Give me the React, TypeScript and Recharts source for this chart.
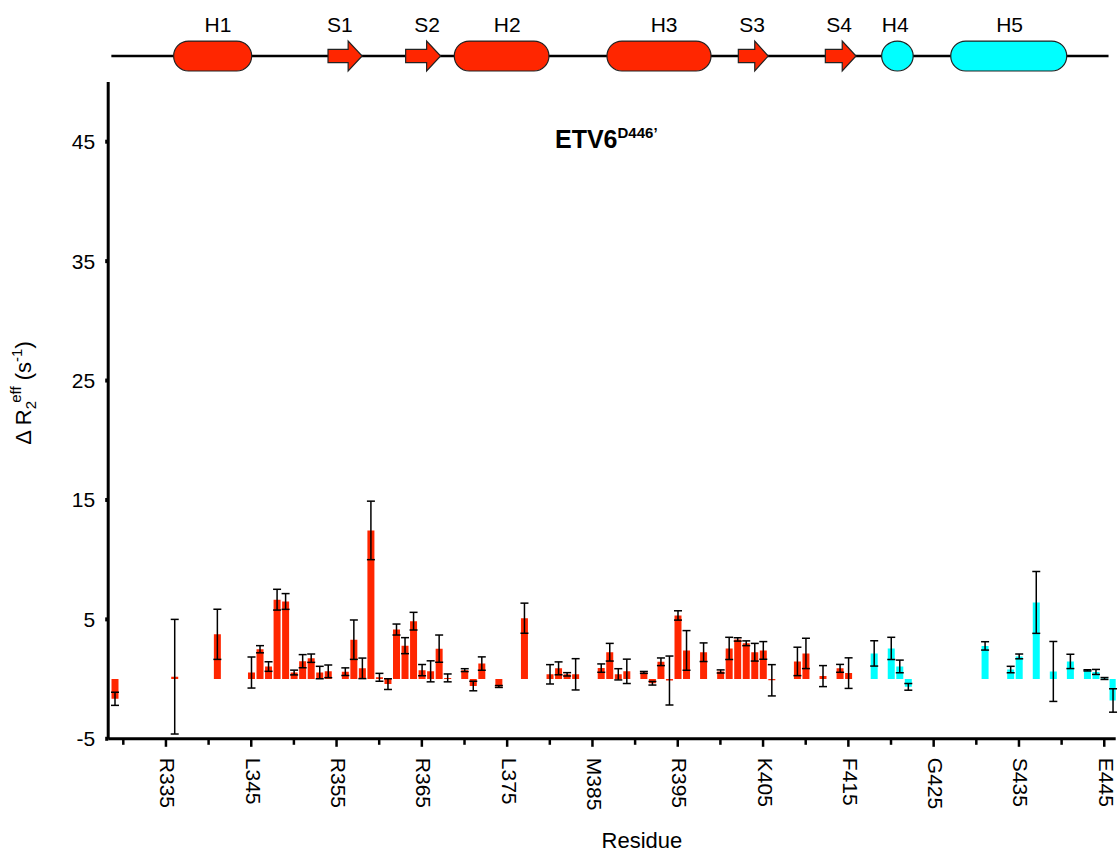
import React from 'react';
import { ComposedChart, Bar, XAxis, YAxis, ErrorBar, Cell, ReferenceArea } from 'recharts';

// ---- data ----
const residues = [329, 336, 341, 345, 346, 347, 348, 349, 350, 351, 352, 353, 354, 356, 357, 358, 359, 360, 361, 362, 363, 364, 365, 366, 367, 368, 370, 371, 372, 374, 377, 380, 381, 382, 383, 386, 387, 388, 389, 391, 392, 393, 394, 395, 396, 398, 400, 401, 402, 403, 404, 405, 406, 409, 410, 412, 414, 415, 418, 420, 421, 422, 431, 434, 435, 437, 439, 441, 443, 444, 445, 446];
const values = [-1.65, 0.2, 3.75, 0.55, 2.5, 1.05, 6.65, 6.5, 0.55, 1.5, 1.75, 0.55, 0.65, 0.62, 3.3, 0.9, 12.45, 0.15, -0.42, 4.15, 2.8, 4.85, 0.75, 0.65, 2.55, 0.1, 0.75, -0.58, 1.3, -0.62, 5.1, 0.4, 0.9, 0.4, 0.4, 0.92, 2.25, 0.4, 0.65, 0.56, -0.35, 1.45, -0.12, 5.33, 2.4, 2.25, 0.64, 2.57, 3.32, 3.0, 2.25, 2.4, -0.1, 1.48, 2.15, 0.25, 0.9, 0.5, 2.15, 2.57, 1.06, -0.65, 2.78, 0.8, 1.9, 6.42, 0.64, 1.48, 0.73, 0.6, 0.05, -1.79];
const errors = [0.55, 4.8, 2.1, 1.3, 0.3, 0.4, 0.87, 0.66, 0.2, 0.55, 0.35, 0.52, 0.53, 0.32, 1.65, 0.86, 2.45, 0.33, 0.45, 0.46, 0.67, 0.74, 0.47, 0.88, 1.14, 0.33, 0.12, 0.4, 0.56, 0.08, 1.26, 0.81, 0.54, 0.14, 1.31, 0.35, 0.74, 0.47, 1.02, 0.08, 0.15, 0.32, 2.05, 0.39, 1.66, 0.78, 0.13, 0.93, 0.14, 0.2, 0.74, 0.74, 1.31, 1.19, 1.27, 0.88, 0.33, 1.28, 1.06, 0.93, 0.53, 0.28, 0.35, 0.27, 0.2, 2.59, 2.51, 0.6, 0.05, 0.21, 0.08, 0.98];
const cyanFromResidue = 418;

const majorTicks = [335, 345, 355, 365, 375, 385, 395, 405, 415, 425, 435, 445];
const majorLabels = ['R335', 'L345', 'R355', 'R365', 'L375', 'M385', 'R395', 'K405', 'F415', 'G425', 'S435', 'E445'];
const minorTicks = [330, 340, 350, 360, 370, 380, 390, 400, 410, 420, 430, 440];
const yTicks = [-5, 5, 15, 25, 35, 45];

// secondary structure
const ssLabels = ['H1', 'S1', 'S2', 'H2', 'H3', 'S3', 'S4', 'H4', 'H5'];
const ssKinds = ['helix', 'strand', 'strand', 'helix', 'helix', 'strand', 'strand', 'circle', 'helix'];
const ssStart = [335.9, 354.0, 363.1, 368.8, 386.7, 402.1, 412.3, 418.9, 427.0];
const ssEnd = [345.05, 358.0, 367.2, 379.9, 398.9, 405.6, 415.9, 422.6, 440.6];
const ssLabelPos = [341.1, 355.4, 365.6, 375.0, 393.4, 403.7, 413.9, 420.5, 433.9];
const ssCyan = [false, false, false, false, false, false, false, true, true];
const ssLineRange = [328.6, 445.5];

const RED = '#FF2600';
const CYAN = '#00FFFF';
const FONT = '"Liberation Sans", Arial, Helvetica, sans-serif';

const xDomain: [number, number] = [328.23, 446.34];
const yDomain: [number, number] = [-5, 50];
const ssY: [number, number] = [50.92, 53.43];

const data = residues.map((r, i) => ({ res: r, val: values[i], err: errors[i] }));
const allXTicks = [...minorTicks, ...majorTicks].sort((a, b) => a - b);

const XTick = (props: any) => {
  const { x, y, payload } = props;
  const idx = majorTicks.indexOf(payload.value);
  const major = idx >= 0;
  return (
    <g>
      <line x1={x} x2={x} y1={y} y2={y + (major ? 8 : 6)} stroke="#000" strokeWidth={2.5} />
      {major && (
        <text
          transform={`translate(${x + 2},${y + 19}) rotate(90)`}
          textAnchor="start"
          dominantBaseline="central"
          fontSize={21}
          fontFamily={FONT}
          fill="#000"
        >
          {majorLabels[idx]}
        </text>
      )}
    </g>
  );
};

const renderSS = (i: number) => (p: any) => {
  const { x, y, width, height } = p;
  const fill = ssCyan[i] ? CYAN : RED;
  const kind = ssKinds[i];
  const lx = x + ((ssLabelPos[i] - ssStart[i]) / (ssEnd[i] - ssStart[i])) * width;
  let shape: any = null;
  if (kind === 'helix') {
    shape = <rect x={x} y={y} width={width} height={height} rx={height / 2} ry={height / 2} fill={fill} stroke="#222" strokeWidth={1.2} />;
  } else if (kind === 'circle') {
    shape = <ellipse cx={x + width / 2} cy={y + height / 2} rx={width / 2} ry={height / 2} fill={fill} stroke="#222" strokeWidth={1.2} />;
  } else {
    const head = Math.min(14, width * 0.45);
    const b1 = y + height * 0.28;
    const b2 = y + height * 0.72;
    const hx = x + width - head;
    const d = `M${x},${b1} L${hx},${b1} L${hx},${y} L${x + width},${y + height / 2} L${hx},${y + height} L${hx},${b2} L${x},${b2} Z`;
    shape = <path d={d} fill={fill} stroke="#222" strokeWidth={1.2} />;
  }
  return (
    <g>
      {shape}
      <text x={lx} y={y - 9} textAnchor="middle" fontSize={21} fontFamily={FONT} fill="#000">
        {ssLabels[i]}
      </text>
    </g>
  );
};

const renderLine = (p: any) => {
  const { x, y, width, height } = p;
  const cy = y + height / 2;
  return <line x1={x} x2={x + width} y1={cy} y2={cy} stroke="#000" strokeWidth={2.5} />;
};

const YLabel = () => (
  <g>
    <text transform="translate(31,393) rotate(-90)" textAnchor="middle" fontSize={22} fontFamily={FONT} fill="#000">
      <tspan>Δ R</tspan>
      <tspan fontSize={15} dy={5}>2</tspan>
      <tspan fontSize={15} dx={-6} dy={-15}> eff</tspan>
      <tspan fontSize={22} dy={10}> (s</tspan>
      <tspan fontSize={15} dy={-9}>-1</tspan>
      <tspan fontSize={22} dy={9}>)</tspan>
    </text>
    <text x={555} y={148} fontSize={25} fontWeight="bold" fontFamily={FONT} fill="#000">
      ETV6
      <tspan fontSize={15} dy={-10}>D446’</tspan>
    </text>
  </g>
);

export default function App() {
  return (
    <div style={{ position: 'absolute', left: 0, top: 0, width: 1120, height: 856, background: '#fff' }}>
      <ComposedChart width={1120} height={856} data={data} margin={{ top: 82, right: 4.3, left: 0, bottom: 0 }}>
        <XAxis
          dataKey="res"
          type="number"
          domain={xDomain}
          allowDataOverflow
          ticks={allXTicks}
          interval={0}
          tick={<XTick />}
          tickLine={false}
          tickSize={0}
          tickMargin={0}
          axisLine={{ stroke: '#000', strokeWidth: 3 }}
          height={117.2}
          label={{ value: 'Residue', position: 'insideBottom', offset: 8, dx: 30, fontSize: 22, fill: '#000', fontFamily: FONT }}
        />
        <XAxis
          xAxisId="top"
          orientation="top"
          type="number"
          domain={xDomain}
          allowDataOverflow
          tick={false}
          tickLine={false}
          axisLine={{ stroke: '#000', strokeWidth: 3 }}
          height={0}
        />
        <YAxis
          type="number"
          domain={yDomain}
          allowDataOverflow
          ticks={yTicks}
          interval={0}
          tickSize={3}
          tickMargin={10}
          tickLine={{ stroke: '#000', strokeWidth: 4 }}
          axisLine={{ stroke: '#000', strokeWidth: 3 }}
          tick={{ fontSize: 21, fill: '#000', fontFamily: FONT }}
          width={108.2}
          label={{ content: () => <YLabel /> }}
        />
        <YAxis
          yAxisId="right"
          orientation="right"
          type="number"
          domain={yDomain}
          tick={false}
          tickLine={false}
          axisLine={{ stroke: '#000', strokeWidth: 3 }}
          width={0}
        />
        <ReferenceArea
          x1={ssLineRange[0]}
          x2={ssLineRange[1]}
          y1={52.1}
          y2={52.26}
          ifOverflow="visible"
          shape={renderLine}
        />
        {ssLabels.map((_, i) => (
          <ReferenceArea
            key={i}
            x1={ssStart[i]}
            x2={ssEnd[i]}
            y1={ssY[0]}
            y2={ssY[1]}
            ifOverflow="visible"
            shape={renderSS(i)}
          />
        ))}
        <Bar dataKey="val" barSize={7} isAnimationActive={false}>
          {data.map((d, i) => (
            <Cell key={i} fill={d.res >= cyanFromResidue ? CYAN : RED} />
          ))}
          <ErrorBar dataKey="err" width={4} stroke="#000" strokeWidth={1.5} direction="y" />
        </Bar>
      </ComposedChart>
    </div>
  );
}
